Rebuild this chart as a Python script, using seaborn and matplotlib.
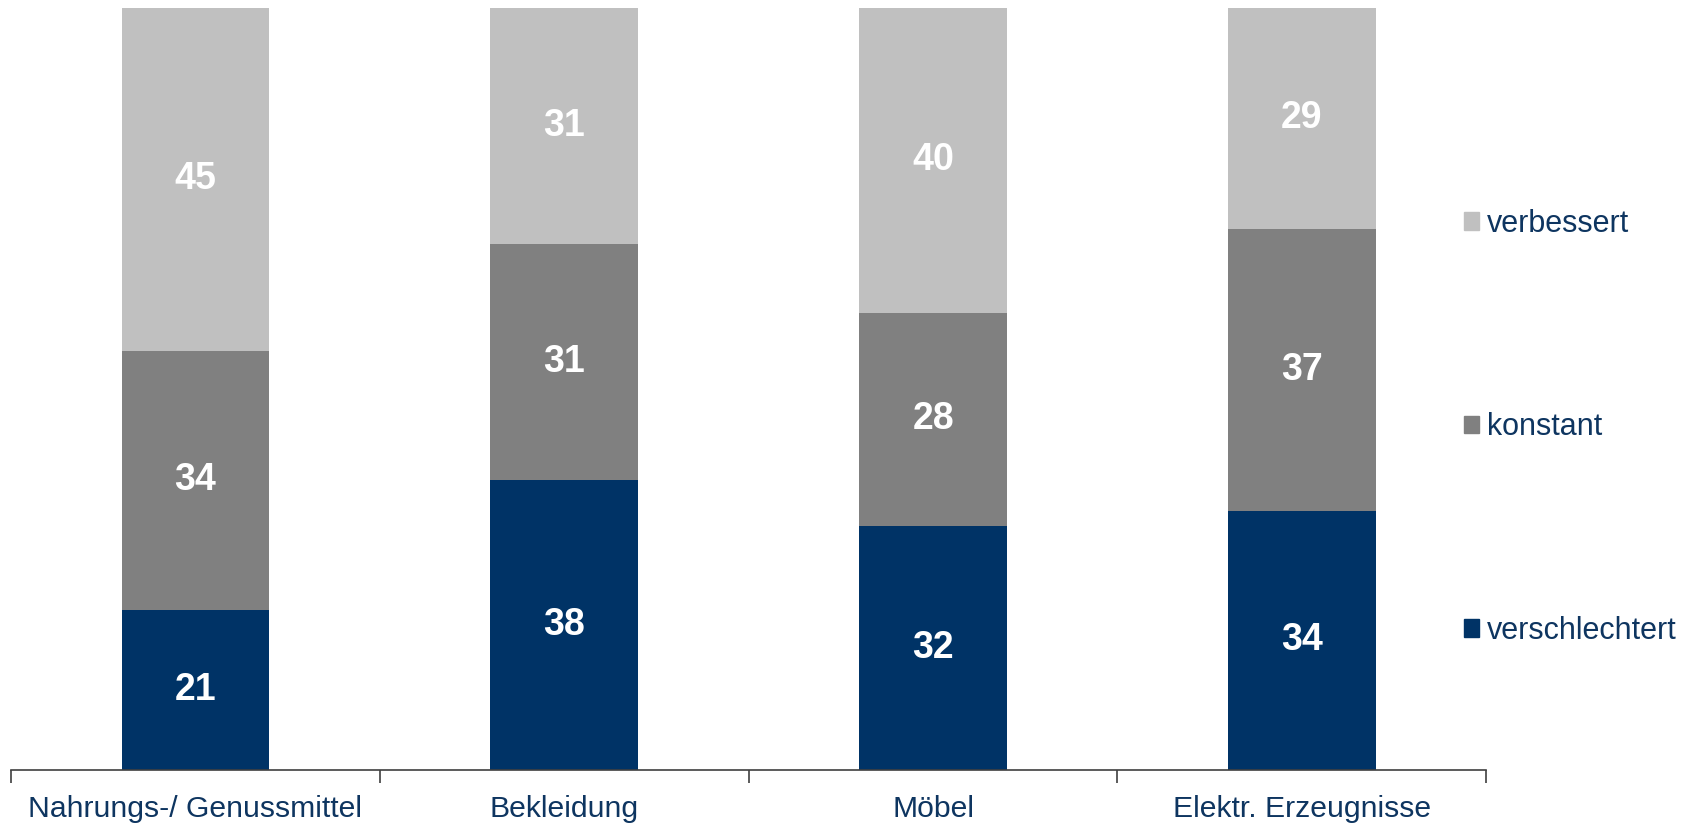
import matplotlib
matplotlib.use("Agg")
import matplotlib.pyplot as plt
import matplotlib.patches as mpatches
import seaborn as sns
import pandas as pd
import numpy as np

categories = ["Nahrungs-/ Genussmittel", "Bekleidung", "Möbel", "Elektr. Erzeugnisse"]
verschlechtert = [21, 38, 32, 34]
konstant = [34, 31, 28, 37]
verbessert = [45, 31, 40, 29]
series_names = ["verschlechtert", "konstant", "verbessert"]
colors = {"verschlechtert": "#003366", "konstant": "#808080", "verbessert": "#C0C0C0"}
text_color = "#0E3560"

sns.set_theme(style="white")
plt.rcParams["font.family"] = ["Liberation Sans", "DejaVu Sans"]

df = pd.DataFrame({"cat": categories, "verschlechtert": verschlechtert,
                   "konstant": konstant, "verbessert": verbessert})
df["c1"] = df["verschlechtert"]
df["c2"] = df["c1"] + df["konstant"]
df["c3"] = df["c2"] + df["verbessert"]

fig = plt.figure(figsize=(16.89, 8.25), dpi=100)
ax = fig.add_axes([0.0065, 0.0667, 0.8735, 0.9236])

for col, name in [("c3", "verbessert"), ("c2", "konstant"), ("c1", "verschlechtert")]:
    sns.barplot(data=df, x="cat", y=col, color=colors[name], width=0.4,
                saturation=1, ax=ax, linewidth=0, order=categories)

ax.set_ylim(0, 100)
ax.set_xlim(-0.5, 3.5)

# labels
for i in range(len(categories)):
    bottoms = [0, df["c1"][i], df["c2"][i]]
    vals = [verschlechtert[i], konstant[i], verbessert[i]]
    for b, v in zip(bottoms, vals):
        ax.text(i, b + v / 2, str(v), ha="center", va="center", color="white",
                fontsize=27, fontweight="bold")

for s in ["top", "right", "left"]:
    ax.spines[s].set_visible(False)
ax.spines["bottom"].set_color("#404040")
ax.spines["bottom"].set_linewidth(1.2)
ax.set_yticks([])
ax.set_xlabel("")
ax.set_ylabel("")
ax.set_xticks(range(len(categories)))
ax.set_xticklabels(categories, fontsize=21.7, color=text_color)
ax.tick_params(axis="x", which="major", bottom=True, length=0, pad=18)
ax.set_xticks([-0.5, 0.5, 1.5, 2.5, 3.5], minor=True)
ax.tick_params(axis="x", which="minor", bottom=True, length=9, width=1.2,
               color="#404040", direction="out")

handles = [mpatches.Patch(color=colors[n], label=n) for n in ["verbessert", "konstant", "verschlechtert"]]
leg = fig.legend(handles=handles, loc="center left", bbox_to_anchor=(0.8665, 0.482),
                 frameon=False, fontsize=22, labelspacing=5.68, handlelength=0.52,
                 handleheight=0.52, handletextpad=0.25, borderpad=0, borderaxespad=0)
for t in leg.get_texts():
    t.set_color(text_color)

fig.savefig("out.png", dpi=100)
